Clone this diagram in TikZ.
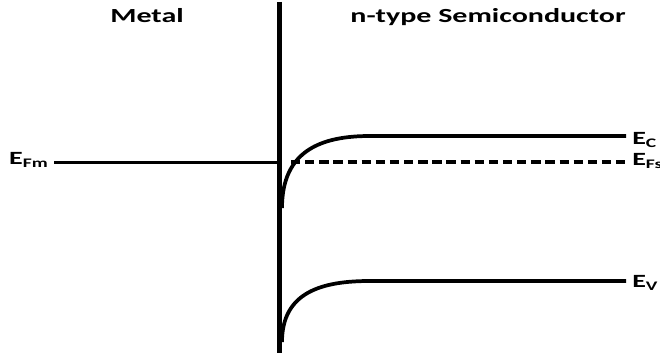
\documentclass[tikz,border=0pt]{standalone}
\usepackage{fontspec}
\setmainfont{Carlito}
\usetikzlibrary{positioning}
\newcommand{\wide}[1]{\scalebox{1.5}[1]{#1}}

\begin{document}
\begin{tikzpicture}[
                x=0.75pt, y=-0.75pt,
                band/.style={line width=2.8pt, black},
                fermi/.style={line width=2.8pt, black, dash pattern=on 7pt off 3.6pt},
                title/.style={font=\bfseries\fontsize{15}{18}\selectfont, inner sep=0pt, anchor=base},
                level/.style={font=\bfseries\fontsize{14}{16}\selectfont, inner sep=0pt}
            ]
                \clip (0,0) rectangle (660,356);
                \useasboundingbox (0,0) rectangle (660,356);

                % titles
                \node[title] (metal) at (147,22.7) {\wide{Metal}};
                \node[title] (semi) at (488,22.7) {\wide{n-type Semiconductor}};

                % interface
                \coordinate (top) at (279.5,2);
                \coordinate (bottom) at (279.5,353);
                \draw[line width=3.6pt] (top) -- (bottom);

                % metal Fermi level
                \node[level, anchor=base east] (efm) at (49,164.5) {\wide{E\textsubscript{Fm}}};
                \coordinate (efmstart) at (54,162.5);
                \draw[band] (efmstart) -- (efmstart -| top);

                % conduction band
                \node[level, anchor=base west] (ec) at (632,144.5) {\wide{E\textsubscript{C}}};
                \coordinate (ecstart) at (282,208);
                \coordinate (ecknee) at (370,136);
                \coordinate (ecend) at (626,136);
                \draw[band] (ecstart) .. controls (282,150) and (322,136) .. (ecknee) -- (ecend);

                % semiconductor Fermi level
                \node[level, anchor=base west] (efs) at (632,165.5) {\wide{E\textsubscript{Fs}}};
                \coordinate (efsstart) at (291,162);
                \coordinate (efsend) at (626,162);
                \draw[fermi] (efsstart) -- (efsend);

                % valence band
                \node[level, anchor=base west] (ev) at (632,287.5) {\wide{E\textsubscript{V}}};
                \coordinate (evstart) at (282,342);
                \coordinate (evknee) at (370,281);
                \coordinate (evend) at (626,281);
                \draw[band] (evstart) .. controls (282,292) and (322,281) .. (evknee) -- (evend);
            \end{tikzpicture}
\end{document}
